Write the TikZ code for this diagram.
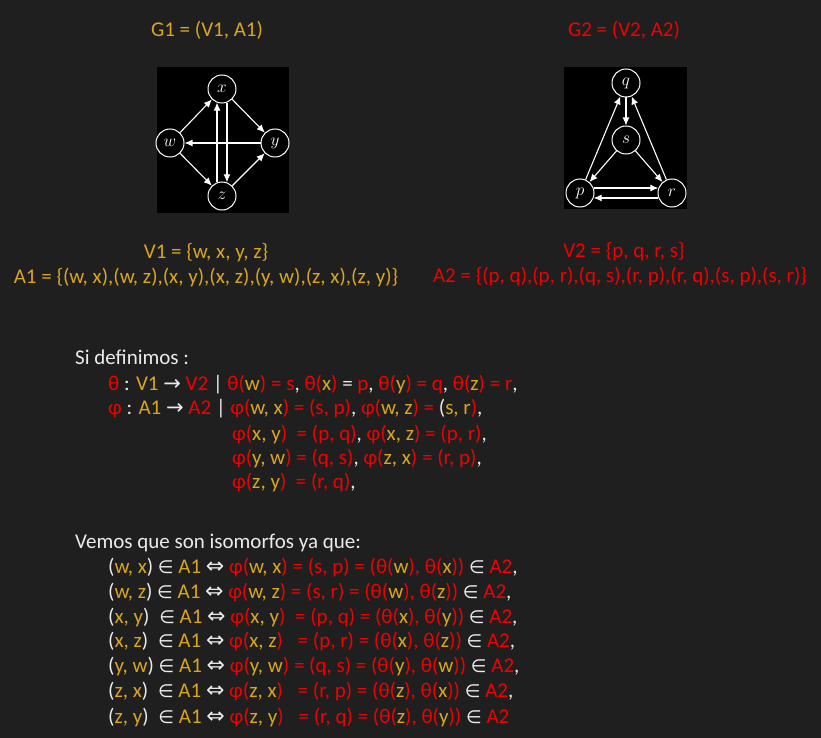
\documentclass[tikz,border=0pt]{standalone}
\usepackage{fontspec}
\setmainfont{Carlito}
\newfontfamily\symfont{DejaVu Sans}
\usetikzlibrary{arrows.meta}

\definecolor{fondo}{RGB}{31,31,31}
\definecolor{oro}{RGB}{218,165,32}
\definecolor{rojo}{RGB}{240,0,0}
\definecolor{blanco}{RGB}{235,235,235}

\newcommand{\oro}[1]{\textcolor{oro}{#1}}
\newcommand{\rojo}[1]{\textcolor{rojo}{#1}}
\newcommand{\pertenece}{{\symfont\fontsize{18}{18}\selectfont ∈}}
\newcommand{\sii}{{\symfont\fontsize{22}{22}\selectfont ⇔}}
\newcommand{\flecha}{{\symfont →}}
% (a, b) en A1 <=> phi(a, b) = (imagen) = (theta(a), theta(b)) en A2
\newcommand{\fila}[6]{(\oro{#1, #2})\hspace{#5} \pertenece\ \oro{A1} \sii\ \rojo{φ(}\oro{#1, #2}\rojo{)\hspace{#6} = (#3) = (θ(}\oro{#1}\rojo{), θ(}\oro{#2}\rojo{))} \pertenece\ \rojo{A2}#4}

\begin{document}
\begin{tikzpicture}[x=1pt, y=-1pt,
  font=\fontsize{21}{25}\selectfont,
  vertice/.style={circle, draw=white, fill=black, text=white, line width=1pt,
    minimum size=28pt, inner sep=0pt, font=\fontsize{17}{17}\selectfont},
  arista/.style={-{Latex[length=8pt,width=7pt]}, white, line width=1.1pt},
  linea/.style={anchor=base west, text=blanco, inner sep=0pt},
  centro/.style={anchor=base, inner sep=0pt}]

% Fondo
\fill[fondo] (0,0) rectangle (821,738);
\useasboundingbox (0,0) rectangle (821,738);

% Titulos
\node[centro, text=oro] (g1) at (207,37) {G1 = (V1, A1)};
\node[centro, text=rojo] (g2) at (624,37) {G2 = (V2, A2)};

% Grafo G1
\fill[black] (157,67) rectangle (289,213);
\node[vertice] (x) at (222,89) {$x$};
\node[vertice] (w) at (170,143) {$w$};
\node[vertice] (y) at (275,143) {$y$};
\node[vertice] (z) at (222,196) {$z$};
\draw[arista] (w) -- (x);
\draw[arista] (w) -- (z);
\draw[arista] (x) -- (y);
\draw[arista] (x.-70) -- (z.70);
\draw[arista] (y) -- (w);
\draw[arista] (z.110) -- (x.-110);
\draw[arista] (z) -- (y);

% Grafo G2
\fill[black] (564,67) rectangle (687,209);
\node[vertice] (q) at (626,83) {$q$};
\node[vertice] (s) at (626,140) {$s$};
\node[vertice] (p) at (580,193) {$p$};
\node[vertice] (r) at (672,193) {$r$};
\draw[arista] (p) -- (q);
\draw[arista] (p.20) -- (r.160);
\draw[arista] (q) -- (s);
\draw[arista] (r.-160) -- (p.-20);
\draw[arista] (r) -- (q);
\draw[arista] (s) -- (p);
\draw[arista] (s) -- (r);

% Conjuntos
\node[centro, text=oro] (v1) at (206,258) {V1 = \{w, x, y, z\}};
\node[centro, text=oro] (a1) at (206,283) {A1 = \{(w, x),(w, z),(x, y),(x, z),(y, w),(z, x),(z, y)\}};
\node[centro, text=rojo] (v2) at (624,257) {V2 = \{p, q, r, s\}};
\node[centro, text=rojo] (a2) at (620,282) {A2 = \{(p, q),(p, r),(q, s),(r, p),(r, q),(s, p),(s, r)\}};

% Definicion de theta y phi
\node[linea] (si) at (75,364) {Si definimos :};
\node[linea] (th) at (108,390) {\rojo{θ} : \oro{V1} \flecha\ \rojo{V2} | \rojo{θ(}\oro{w}\rojo{) = s}, \rojo{θ(}\oro{x}\rojo{)} = \rojo{p}, \rojo{θ(}\oro{y}\rojo{) = q}, \rojo{θ(}\oro{z}\rojo{) = r},};
\node[linea] (ph) at (108,414) {\rojo{φ} : \oro{A1} \flecha\ \rojo{A2} | \rojo{φ(}\oro{w, x}\rojo{) = (s, p)}, \rojo{φ(}\oro{w, z}\rojo{) =} (\oro{s, r}\rojo{)},};
\node[linea] (ph2) at (232,440) {\rojo{φ(}\oro{x, y}\rojo{)\ \ = (p, q)}, \rojo{φ(}\oro{x, z}\rojo{) = (p, r)},};
\node[linea] (ph3) at (232,464) {\rojo{φ(}\oro{y, w}\rojo{) = (q, s)}, \rojo{φ(}\oro{z, x}\rojo{) = (r, p)},};
\node[linea] (ph4) at (232,488) {\rojo{φ(}\oro{z, y}\rojo{)\ \ = (r, q)},};

% Isomorfismo
\node[linea] (ve) at (75,548) {Vemos que son isomorfos ya que:};
\node[linea] (f1) at (108,573) {\fila{w}{x}{s, p}{,}{0pt}{0pt}};
\node[linea] (f2) at (108,598) {\fila{w}{z}{s, r}{,}{0pt}{0pt}};
\node[linea] (f3) at (108,623) {\fila{x}{y}{p, q}{,}{5pt}{5pt}};
\node[linea] (f4) at (108,647) {\fila{x}{z}{p, r}{,}{5pt}{10pt}};
\node[linea] (f5) at (108,672) {\fila{y}{w}{q, s}{,}{0pt}{0pt}};
\node[linea] (f6) at (108,697) {\fila{z}{x}{r, p}{,}{5pt}{10pt}};
\node[linea] (f7) at (108,723) {\fila{z}{y}{r, q}{}{5pt}{10pt}};

\end{tikzpicture}
\end{document}
